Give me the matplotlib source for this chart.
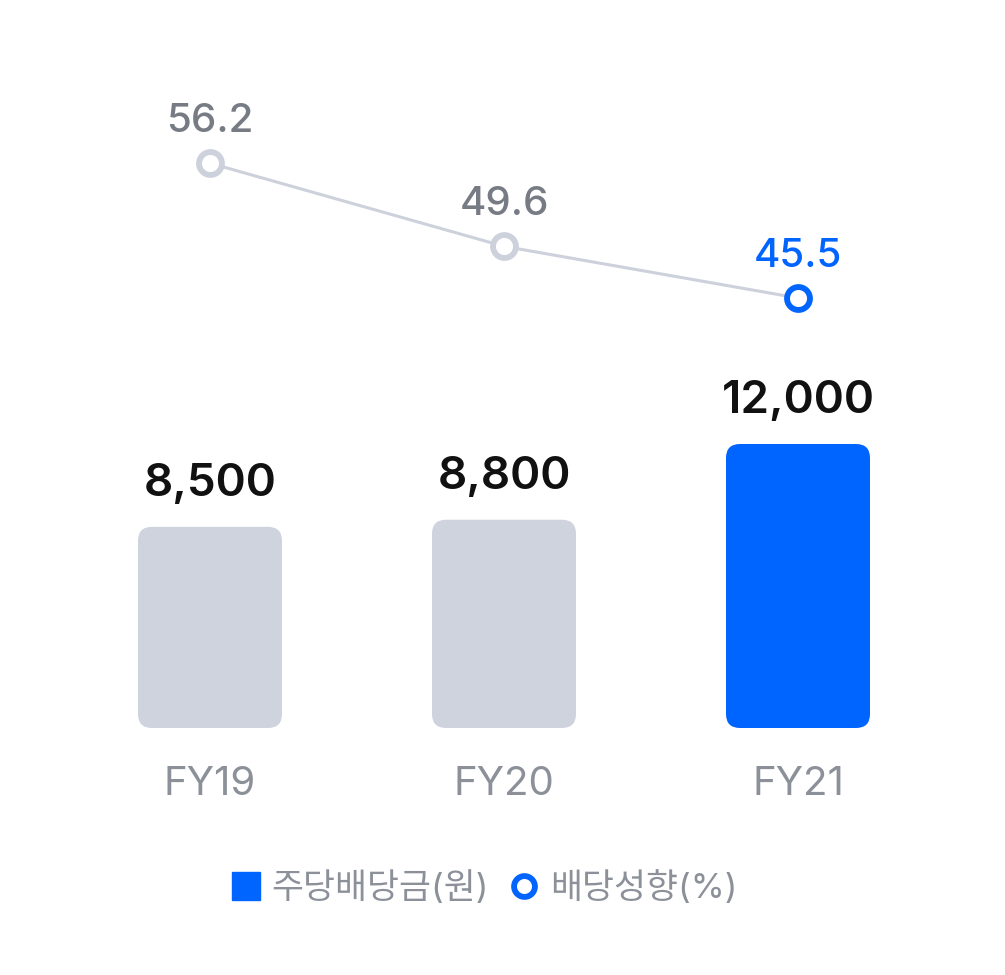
import matplotlib
matplotlib.use("Agg")
import matplotlib.pyplot as plt
from matplotlib.patches import FancyBboxPatch
from matplotlib.lines import Line2D

plt.rcParams['font.family'] = ['Inter', 'Noto Sans CJK KR', 'DejaVu Sans']

# dados
anos = ['FY19', 'FY20', 'FY21']
dividendo = [8500, 8800, 12000]          # 주당배당금(원)
payout = [56.2, 49.6, 45.5]              # 배당성향(%)
rotulos_div = ['8,500', '8,800', '12,000']
rotulos_pay = ['56.2', '49.6', '45.5']

AZUL = '#0064ff'
CINZA_BAR = '#cfd3dd'
CINZA_LINHA = '#cdd1db'
CINZA_TXT = '#767b84'
CINZA_EIXO = '#8b9099'

W, H = 1005, 975
fig = plt.figure(figsize=(W / 100, H / 100), dpi=100)
ax = fig.add_axes([0, 0, 1, 1])
ax.axis('off')

# escala x: 294 px entre categorias, primeira em 210 px
px_x = 294
ax.set_xlim(-210 / px_x, 2 + (W - 798) / px_x)
# escala y das barras: base em 247 px (de baixo), 12000 -> 284 px
px_y = 284 / 12000
base = 247
ax.set_ylim(-base / px_y, (H - base) / px_y)

largura = 144 / px_x
raio = 14 / px_x
cores = [CINZA_BAR, CINZA_BAR, AZUL]
for i, v in enumerate(dividendo):
    p = FancyBboxPatch((i - largura / 2, 0), largura, v,
                       boxstyle=f"round,pad=0,rounding_size={raio}",
                       mutation_aspect=px_x / px_y,
                       facecolor=cores[i], edgecolor='none')
    ax.add_patch(p)
    ax.annotate(rotulos_div[i], (i, v), xytext=(0, 22), textcoords='offset points',
                ha='center', va='baseline', fontsize=33, fontweight='semibold',
                color='#111111')
    ax.annotate(anos[i], (i, 0), xytext=(0, -48), textcoords='offset points',
                ha='center', va='baseline', fontsize=29, color=CINZA_EIXO)

# eixo secundário para a linha (ajuste aproximado dos três pontos)
ax2 = ax.twinx()
ax2.axis('off')
esc = 12.6
ax2.set_ylim(45.5 - 677 / esc, 45.5 + (H - 677) / esc)
xs = list(range(len(anos)))
ax2.plot(xs, payout, color=CINZA_LINHA, lw=2.2, zorder=2)
cores_m = [CINZA_LINHA, CINZA_LINHA, AZUL]
cores_t = [CINZA_TXT, CINZA_TXT, AZUL]
for i, v in enumerate(payout):
    ax2.plot(i, v, marker='o', ms=16.5, mew=4.2, mfc='white', mec=cores_m[i], zorder=3)
    ax2.annotate(rotulos_pay[i], (i, v), xytext=(0, 22.5), textcoords='offset points',
                 ha='center', va='baseline', fontsize=29, fontweight='medium',
                 color=cores_t[i])

# legenda
h1 = Line2D([], [], marker='s', ls='none', ms=20, color=AZUL)
h2 = Line2D([], [], marker='o', ls='none', ms=15, mew=4.2, mfc='white', mec=AZUL)
leg = fig.legend([h1, h2], ['주당배당금(원)', '배당성향(%)'], loc='center',
                 bbox_to_anchor=(0.482, 1 - 888 / H), ncol=2, frameon=False,
                 fontsize=25, handletextpad=0.35, columnspacing=0.6,
                 handlelength=0.8, labelcolor=CINZA_EIXO)

fig.savefig('out.png', dpi=100)
